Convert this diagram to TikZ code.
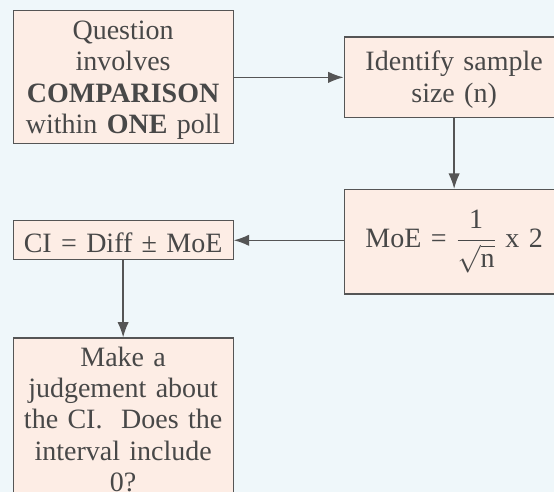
\documentclass[tikz,border=0pt]{standalone}
\usepackage{amsmath}
\usepackage{fontspec}
\setmainfont{Liberation Serif}
\usetikzlibrary{positioning,arrows.meta}
\definecolor{pagebg}{RGB}{239,247,250}
\definecolor{boxfill}{RGB}{253,237,229}
\definecolor{boxline}{RGB}{85,85,85}
\definecolor{boxtext}{RGB}{72,72,72}

\begin{document}
\begin{tikzpicture}[x=1pt,y=1pt,
    box/.style={draw=boxline,fill=boxfill,line width=0.9pt,text=boxtext,
        text width=159pt,inner sep=3pt,align=center,
        font=\fontsize{21}{23.6}\selectfont,
        execute at begin node={\rule{0pt}{18pt}}},
    arr/.style={draw=boxline,line width=1pt,-{Latex[length=11.5pt,width=8.5pt]}}]
    \useasboundingbox[fill=pagebg] (0,0) rectangle (415.5,-369);
    \node[box,anchor=north west,minimum height=99.75pt] (q) at (9.4,-7.7) {Question\\involves\\\textbf{COMPARISON}\\within \textbf{ONE} poll};
    \node[box,right=82.35pt of q,minimum height=60.5pt] (size) {Identify sample\\size (n)};
    \node[box,below=52.9pt of size,minimum height=78.4pt] (moe) {MoE = $\dfrac{\text{1}}{\sqrt{\text{n}}}$ x 2};
    \node[box,below=56.8pt of q,minimum height=29.25pt] (ci) {CI = Diff ± MoE};
    \node[box,below=57.75pt of ci] (judge) {Make a\\judgement about\\the CI.\ \ Does the\\interval include\\0?};

    %q>size
    \draw[arr] (q) -- (size);
    %size>moe
    \draw[arr] (size) -- (moe);
    %moe>ci
    \draw[arr] (ci -| moe.west) -- (ci);
    %ci>judge
    \draw[arr] (ci) -- (judge);
\end{tikzpicture}
\end{document}
